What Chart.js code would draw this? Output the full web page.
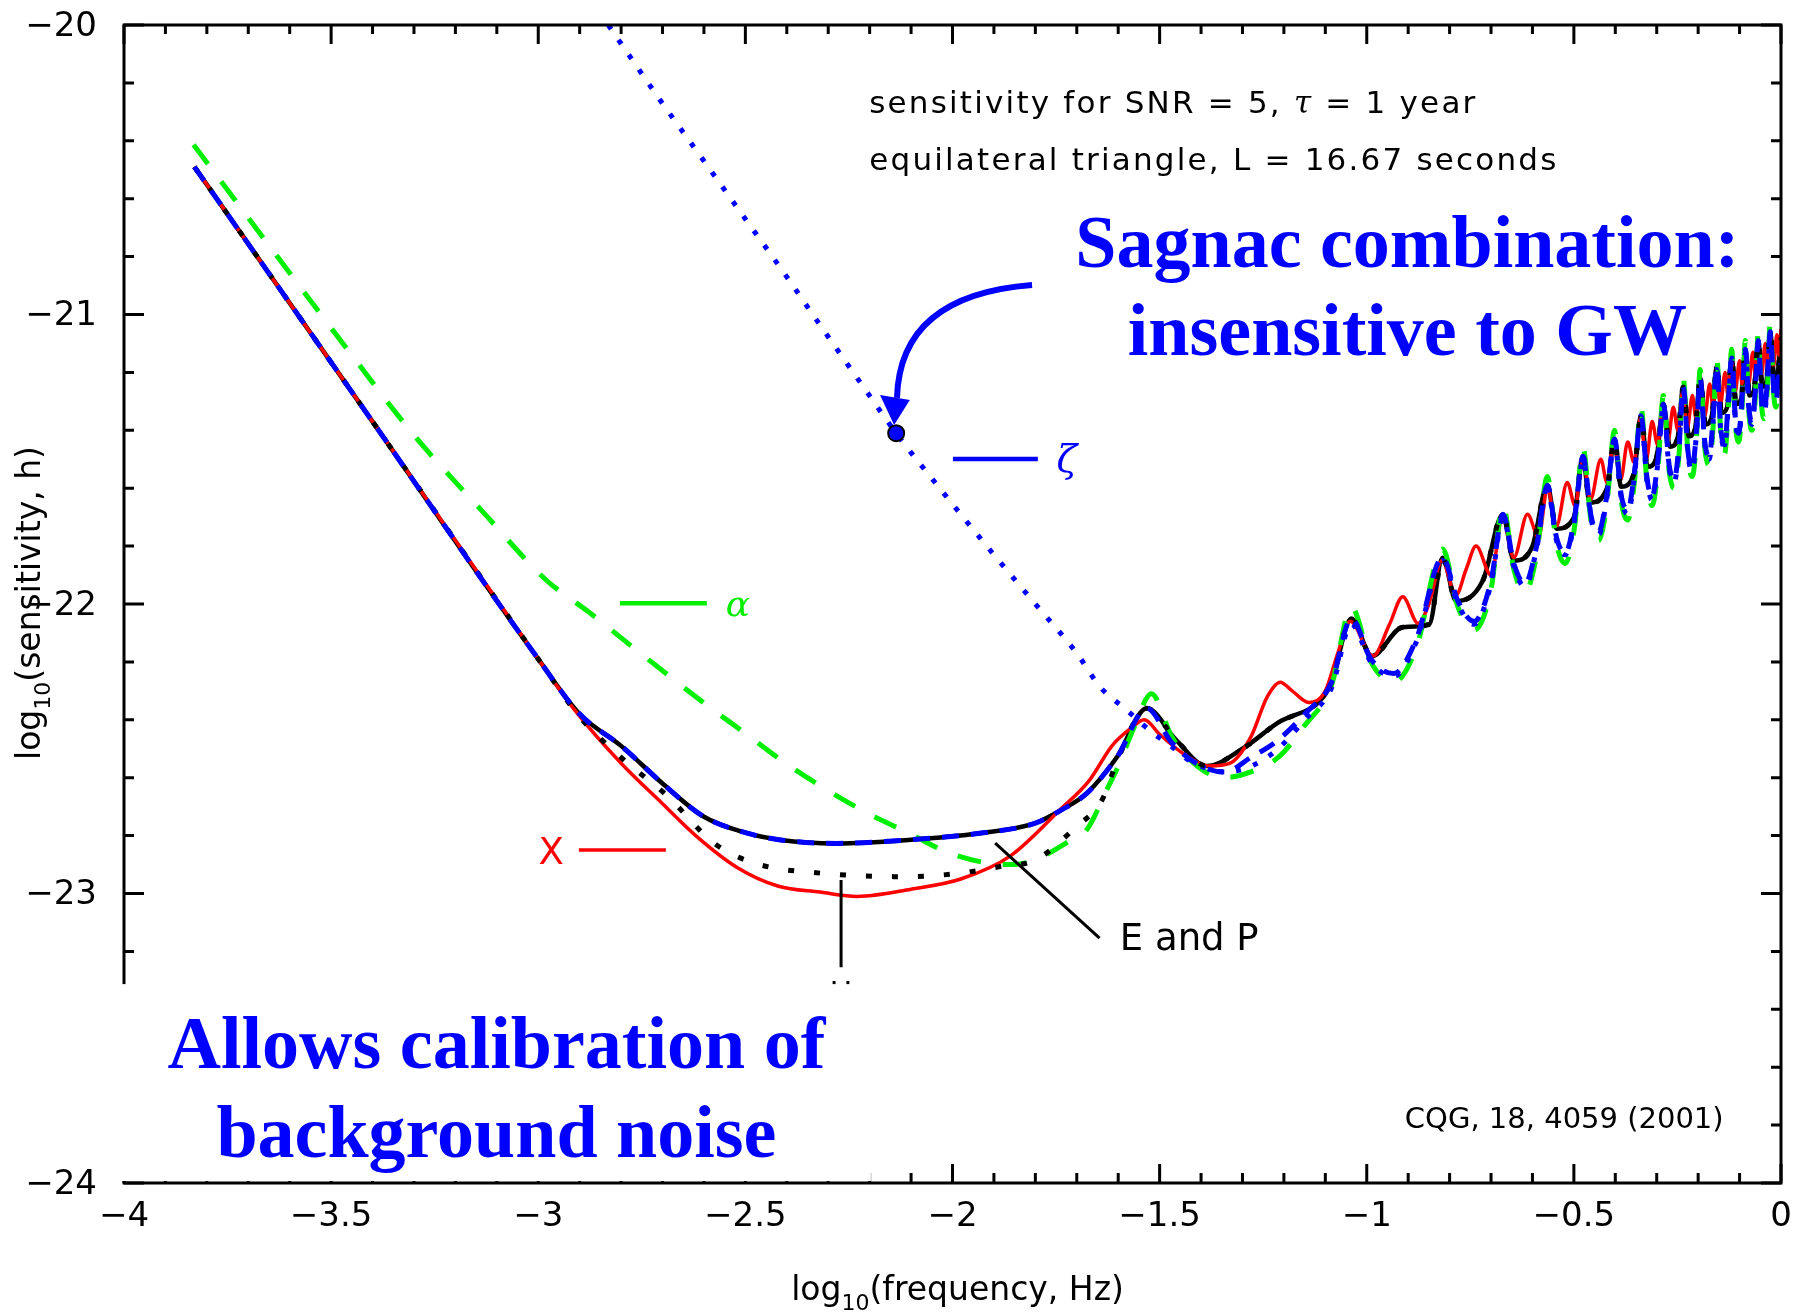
<!DOCTYPE html>
<html>
<head>
<meta charset="utf-8">
<script src="https://cdn.jsdelivr.net/npm/chart.js@4.4.1/dist/chart.umd.min.js"></script>
<style>
  html, body { margin: 0; padding: 0; background: #ffffff; }
  #wrap { width: 1798px; height: 1314px; }
</style>
</head>
<body>
<div id="wrap"><canvas id="c" width="1798" height="1314"></canvas></div>
<script>
// Axis ticks and labels
const xMajorTicks = [-4, -3.5, -3, -2.5, -2, -1.5, -1, -0.5, 0];
const xTickLabels = ['\u22124', '\u22123.5', '\u22123', '\u22122.5', '\u22122', '\u22121.5', '\u22121', '\u22120.5', '0'];
const yMajorTicks = [-24, -23, -22, -21, -20];
const yTickLabels = ['\u221224', '\u221223', '\u221222', '\u221221', '\u221220'];

// X (Michelson) combination
const xRed = [-3.83,-3.40,-3.00,-2.91,-2.80,-2.70,-2.62,-2.52,-2.42,-2.32,-2.23,-2.10,-1.98,-1.86,-1.74,-1.67,-1.615,-1.57,-1.537,-1.50,-1.44,-1.38,-1.33,-1.28,-1.24,-1.209,-1.18,-1.14,-1.10,-1.07,-1.040,-0.985,-0.945,-0.913,-0.876,-0.850,-0.818,-0.785,-0.760,-0.736,-0.700,-0.672,-0.645,-0.612,-0.585,-0.564,-0.542,-0.516,-0.497,-0.478,-0.460,-0.435,-0.420,-0.404,-0.387,-0.370,-0.355,-0.340,-0.325,-0.311,-0.298,-0.286,-0.273,-0.260,-0.249,-0.238,-0.226,-0.214,-0.205,-0.195,-0.184,-0.172,-0.164,-0.156,-0.146,-0.135,-0.128,-0.120,-0.111,-0.100,-0.094,-0.087,-0.078,-0.068,-0.062,-0.056,-0.047,-0.038,-0.033,-0.027,-0.018,-0.010,-0.005,0.0];
const yRed = [-20.49,-21.37,-22.19,-22.37,-22.55,-22.69,-22.80,-22.91,-22.975,-22.995,-23.01,-22.985,-22.95,-22.87,-22.71,-22.61,-22.49,-22.43,-22.40,-22.45,-22.52,-22.56,-22.55,-22.46,-22.32,-22.27,-22.30,-22.34,-22.30,-22.17,-22.06,-22.18,-22.07,-21.975,-22.067,-22.00,-21.85,-21.97,-21.88,-21.80,-21.90,-21.70,-21.84,-21.69,-21.77,-21.60,-21.73,-21.58,-21.66,-21.50,-21.64,-21.50,-21.58,-21.44,-21.57,-21.44,-21.51,-21.36,-21.50,-21.37,-21.45,-21.32,-21.44,-21.32,-21.40,-21.27,-21.39,-21.28,-21.36,-21.23,-21.35,-21.24,-21.32,-21.20,-21.31,-21.20,-21.28,-21.16,-21.27,-21.16,-21.24,-21.13,-21.24,-21.13,-21.21,-21.10,-21.21,-21.10,-21.18,-21.07,-21.18,-21.07,-21.14,-21.05];

// Shared high-frequency grid for E, alpha and zeta
const xHf = [-1.214,-1.15,-1.085,-1.037,-0.99,-0.935,-0.88,-0.817,-0.78,-0.741,-0.70,-0.671,-0.645,-0.618,-0.59,-0.564,-0.542,-0.521,-0.498,-0.478,-0.458,-0.440,-0.420,-0.402,-0.385,-0.370,-0.354,-0.338,-0.323,-0.311,-0.297,-0.284,-0.270,-0.258,-0.246,-0.236,-0.224,-0.214,-0.204,-0.195,-0.184,-0.173,-0.164,-0.155,-0.145,-0.136,-0.128,-0.119,-0.110,-0.102,-0.094,-0.086,-0.077,-0.070,-0.062,-0.055,-0.047,-0.040,-0.033,-0.026,-0.018,-0.012,-0.005,0.0];

// E (monitor) combination
const xELow = [-3.83,-3.40,-3.00,-2.90,-2.80,-2.70,-2.60,-2.50,-2.415,-2.28,-2.107,-1.935,-1.80,-1.738,-1.676,-1.602,-1.531,-1.47,-1.40,-1.343,-1.28];
const yELow = [-20.49,-21.37,-22.19,-22.38,-22.49,-22.62,-22.735,-22.79,-22.815,-22.827,-22.815,-22.792,-22.757,-22.712,-22.654,-22.527,-22.36,-22.48,-22.56,-22.58,-22.53];
const yEHf = [-22.47,-22.38,-22.27,-22.05,-22.19,-22.24,-22.12,-21.84,-21.99,-22.06,-21.92,-21.69,-21.86,-21.93,-21.80,-21.59,-21.77,-21.825,-21.70,-21.49,-21.70,-21.75,-21.62,-21.43,-21.63,-21.675,-21.55,-21.35,-21.57,-21.63,-21.50,-21.31,-21.52,-21.57,-21.45,-21.25,-21.48,-21.53,-21.40,-21.22,-21.44,-21.49,-21.36,-21.18,-21.40,-21.45,-21.32,-21.15,-21.36,-21.41,-21.29,-21.12,-21.33,-21.37,-21.26,-21.09,-21.29,-21.33,-21.23,-21.06,-21.25,-21.29,-21.20,-21.17];

// alpha (Sagnac-type) combination
const xAlphaLow = [-3.832,-3.454,-3.304,-3.131,-2.981,-2.875,-2.778,-2.600,-2.501,-2.403,-2.303,-2.206,-2.107,-2.008,-1.909,-1.85,-1.78,-1.72,-1.676,-1.627,-1.603,-1.56,-1.52,-1.47,-1.40,-1.343,-1.28];
const yAlphaLow = [-20.414,-21.133,-21.41,-21.686,-21.917,-22.031,-22.142,-22.342,-22.446,-22.55,-22.642,-22.722,-22.79,-22.86,-22.896,-22.90,-22.87,-22.82,-22.78,-22.64,-22.57,-22.42,-22.31,-22.46,-22.57,-22.60,-22.58];
const yAlphaHf = [-22.53,-22.42,-22.28,-22.01,-22.20,-22.27,-22.15,-21.81,-22.01,-22.09,-21.95,-21.66,-21.88,-21.96,-21.83,-21.56,-21.79,-21.86,-21.73,-21.46,-21.72,-21.78,-21.65,-21.40,-21.65,-21.71,-21.58,-21.32,-21.59,-21.66,-21.53,-21.28,-21.54,-21.60,-21.48,-21.22,-21.50,-21.56,-21.43,-21.19,-21.46,-21.52,-21.39,-21.15,-21.42,-21.48,-21.35,-21.12,-21.38,-21.44,-21.32,-21.09,-21.35,-21.40,-21.29,-21.06,-21.31,-21.36,-21.26,-21.03,-21.27,-21.32,-21.23,-21.21];

// zeta (fully symmetric Sagnac) combination
const xZetaLow = [-2.831,-2.706,-2.60,-2.50,-2.40,-2.32,-2.22,-2.136,-2.018,-1.90,-1.80,-1.70,-1.644,-1.58,-1.516,-1.473,-1.429,-1.343,-1.279];
const yZetaLow = [-20.00,-20.259,-20.47,-20.67,-20.87,-21.036,-21.24,-21.41,-21.623,-21.83,-22.00,-22.17,-22.286,-22.366,-22.446,-22.49,-22.54,-22.58,-22.56];
const yZetaHf = [-22.50,-22.40,-22.29,-22.07,-22.20,-22.25,-22.13,-21.85,-22.00,-22.07,-21.93,-21.70,-21.87,-21.94,-21.81,-21.60,-21.78,-21.83,-21.71,-21.50,-21.71,-21.76,-21.63,-21.44,-21.64,-21.69,-21.56,-21.36,-21.58,-21.64,-21.51,-21.32,-21.53,-21.58,-21.46,-21.26,-21.49,-21.54,-21.41,-21.23,-21.45,-21.50,-21.37,-21.19,-21.41,-21.46,-21.33,-21.16,-21.37,-21.42,-21.30,-21.13,-21.34,-21.38,-21.27,-21.10,-21.30,-21.34,-21.24,-21.07,-21.26,-21.30,-21.21,-21.18];
const zetaMarkX = [-2.136];
const zetaMarkY = [-21.41];

// P (beacon) and U (relay) combinations; black curves share the high-frequency part
const xPLow = [-3.83,-3.40,-3.00,-2.90,-2.80,-2.70,-2.60,-2.50,-2.415,-2.28,-2.107,-1.935,-1.80,-1.738,-1.676,-1.602];
const yPLow = [-20.49,-21.37,-22.19,-22.38,-22.49,-22.62,-22.735,-22.79,-22.815,-22.827,-22.815,-22.792,-22.757,-22.712,-22.654,-22.527];
const xULow = [-3.83,-3.40,-3.00,-2.90,-2.80,-2.687,-2.575,-2.476,-2.317,-2.107,-1.983,-1.885,-1.799,-1.701,-1.639,-1.602];
const yULow = [-20.49,-21.37,-22.19,-22.39,-22.53,-22.665,-22.827,-22.896,-22.93,-22.942,-22.93,-22.907,-22.884,-22.769,-22.677,-22.54];
const xBlackHf = [-1.531,-1.46,-1.386,-1.30,-1.214,-1.107,-1.085,-1.037,-0.988,-0.913,-0.849,-0.817,-0.784,-0.720,-0.671,-0.645,-0.600,-0.564,-0.542,-0.500,-0.478,-0.462,-0.420,-0.402,-0.386,-0.355,-0.338,-0.322,-0.300,-0.284,-0.268,-0.250,-0.236,-0.222,-0.207,-0.195,-0.182,-0.167,-0.155,-0.143,-0.130,-0.119,-0.108,-0.096,-0.086,-0.076,-0.065,-0.055,-0.045,-0.035,-0.026,-0.017,-0.008,0.0];
const yBlackHf = [-22.36,-22.47,-22.56,-22.50,-22.41,-22.325,-22.27,-22.05,-22.18,-22.08,-22.07,-21.84,-21.99,-21.92,-21.69,-21.85,-21.80,-21.59,-21.74,-21.70,-21.49,-21.65,-21.60,-21.43,-21.595,-21.55,-21.35,-21.526,-21.49,-21.31,-21.457,-21.43,-21.25,-21.42,-21.39,-21.22,-21.38,-21.35,-21.18,-21.34,-21.32,-21.15,-21.31,-21.29,-21.12,-21.28,-21.26,-21.09,-21.25,-21.23,-21.06,-21.22,-21.20,-21.08];

function pts(xs, ys) { return xs.map((v, i) => ({ x: v, y: ys[i] })); }

const RED = '#ff0000', GREEN = '#00ee00', BLUE = '#0000ff', BLACK = '#000000';
const SANS = '"DejaVu Sans", sans-serif';
const SERIF_B = 'bold 74px "Liberation Serif", "Times New Roman", serif';

const base = { showLine: true, pointRadius: 0, fill: false, cubicInterpolationMode: 'monotone', borderJoinStyle: 'round' };

// Draw text with a subscript segment: parts = [[text, isSub], ...]
function drawSubText(ctx, parts, cx, baseline, size) {
  const subSize = Math.round(size * 0.68);
  let total = 0;
  parts.forEach(([t, sub]) => { ctx.font = (sub ? subSize : size) + 'px ' + SANS; total += ctx.measureText(t).width; });
  let x = cx - total / 2;
  ctx.textAlign = 'left'; ctx.textBaseline = 'alphabetic';
  parts.forEach(([t, sub]) => {
    ctx.font = (sub ? subSize : size) + 'px ' + SANS;
    ctx.fillText(t, x, baseline + (sub ? size * 0.3 : 0));
    x += ctx.measureText(t).width;
  });
}

const decor = {
  id: 'decor',
  afterDatasetsDraw(chart) {
    const { ctx, chartArea: a, scales } = chart;
    const px = v => scales.x.getPixelForValue(v);
    const py = v => scales.y.getPixelForValue(v);
    ctx.save();

    // frame
    ctx.strokeStyle = BLACK; ctx.lineWidth = 3; ctx.lineCap = 'butt';
    ctx.strokeRect(a.left, a.top, a.right - a.left, a.bottom - a.top);
    // inward ticks on all four sides
    ctx.beginPath();
    for (let i = 0; i <= 40; i++) {
      const X = px(-4 + i * 0.1);
      const len = i % 5 === 0 ? 19 : 10;
      ctx.moveTo(X, a.bottom); ctx.lineTo(X, a.bottom - len);
      ctx.moveTo(X, a.top); ctx.lineTo(X, a.top + (i % 5 === 0 ? 19 : 9));
    }
    for (let i = 0; i <= 20; i++) {
      const Y = py(-24 + i * 0.2);
      const len = i % 5 === 0 ? 20 : 10;
      ctx.moveTo(a.left, Y); ctx.lineTo(a.left + len, Y);
      ctx.moveTo(a.right, Y); ctx.lineTo(a.right - len, Y);
    }
    ctx.stroke();

    // pointer lines for U and "E and P"
    ctx.lineWidth = 3;
    ctx.beginPath();
    ctx.moveTo(px(-2.269), py(-22.953)); ctx.lineTo(px(-2.269), py(-23.255));
    ctx.moveTo(px(-1.897), py(-22.826)); ctx.lineTo(px(-1.645), py(-23.154));
    ctx.stroke();
    ctx.fillStyle = BLACK;
    ctx.font = '30px ' + SANS; ctx.textAlign = 'center'; ctx.textBaseline = 'top';
    ctx.fillText('U', px(-2.269), py(-23.30));
    ctx.font = '37px ' + SANS; ctx.textAlign = 'left'; ctx.textBaseline = 'middle';
    ctx.fillText('E and P', px(-1.596), py(-23.161));

    // white panel for the lower-left note
    ctx.fillStyle = '#ffffff';
    ctx.fillRect(a.left - 14, py(-23.313), px(-2.197) - (a.left - 14), (a.bottom - 2) - py(-23.313));

    // tick labels
    ctx.fillStyle = BLACK;
    ctx.font = '34px ' + SANS;
    ctx.textAlign = 'right'; ctx.textBaseline = 'middle';
    yMajorTicks.forEach((v, i) => ctx.fillText(yTickLabels[i], a.left - 27, py(v) + 2));
    ctx.textAlign = 'center'; ctx.textBaseline = 'top';
    xMajorTicks.forEach((v, i) => ctx.fillText(xTickLabels[i], px(v), a.bottom + 17));

    // axis titles
    drawSubText(ctx, [['log', false], ['10', true], ['(frequency, Hz)', false]], (a.left + a.right) / 2 + 5, 1300, 33);
    ctx.save();
    ctx.translate(40, 603);
    ctx.rotate(-Math.PI / 2);
    drawSubText(ctx, [['log', false], ['10', true], ['(sensitivity, h)', false]], 0, 0, 33);
    ctx.restore();

    // header notes (wide lettering)
    ctx.save();
    ctx.letterSpacing = '2.2px';
    ctx.textAlign = 'left'; ctx.textBaseline = 'alphabetic';
    let xx = px(-2.201);
    const y1 = py(-20.304);
    ctx.font = '31px ' + SANS;
    ctx.fillText('sensitivity for SNR = 5, ', xx, y1);
    xx += ctx.measureText('sensitivity for SNR = 5, ').width;
    ctx.font = 'italic 31px "DejaVu Serif", serif';
    ctx.fillText('\u03C4', xx, y1);
    xx += ctx.measureText('\u03C4').width;
    ctx.font = '31px ' + SANS;
    ctx.fillText(' = 1 year', xx, y1);
    ctx.fillText('equilateral triangle, L = 16.67 seconds', px(-2.201), py(-20.501));
    ctx.restore();
    ctx.textAlign = 'left'; ctx.textBaseline = 'alphabetic';
    ctx.font = '29px ' + SANS;
    ctx.fillText('CQG, 18, 4059 (2001)', px(-0.908), py(-23.81));

    // series labels
    ctx.lineWidth = 3.5;
    ctx.strokeStyle = RED;
    ctx.beginPath(); ctx.moveTo(px(-2.902), py(-22.850)); ctx.lineTo(px(-2.692), py(-22.850)); ctx.stroke();
    ctx.fillStyle = RED; ctx.font = '37px ' + SANS; ctx.textAlign = 'center'; ctx.textBaseline = 'middle';
    ctx.fillText('X', px(-2.969), py(-22.866));
    ctx.lineWidth = 4.5;
    ctx.strokeStyle = GREEN;
    ctx.beginPath(); ctx.moveTo(px(-2.803), py(-21.997)); ctx.lineTo(px(-2.593), py(-21.997)); ctx.stroke();
    ctx.fillStyle = GREEN; ctx.font = 'italic 36px "DejaVu Serif", serif';
    ctx.fillText('\u03B1', px(-2.518), py(-22.01));
    ctx.strokeStyle = BLUE;
    ctx.beginPath(); ctx.moveTo(px(-1.999), py(-21.499)); ctx.lineTo(px(-1.794), py(-21.499)); ctx.stroke();
    ctx.fillStyle = BLUE; ctx.font = 'italic 38px "DejaVu Serif", serif';
    ctx.fillText('\u03B6', px(-1.724), py(-21.51));

    // Sagnac callout arrow
    ctx.strokeStyle = BLUE; ctx.lineWidth = 6; ctx.lineCap = 'butt';
    ctx.beginPath();
    ctx.moveTo(px(-1.808), py(-20.898));
    ctx.quadraticCurveTo(px(-2.127), py(-20.933), px(-2.134), py(-21.288));
    ctx.stroke();
    ctx.fillStyle = BLUE;
    ctx.beginPath();
    ctx.moveTo(px(-2.141), py(-21.382));
    ctx.lineTo(px(-2.175), py(-21.278));
    ctx.lineTo(px(-2.103), py(-21.295));
    ctx.closePath(); ctx.fill();

    // blue notes
    ctx.font = SERIF_B; ctx.fillStyle = BLUE; ctx.textAlign = 'center'; ctx.textBaseline = 'alphabetic';
    ctx.fillText('Sagnac combination:', px(-0.902), py(-20.836));
    ctx.fillText('insensitive to GW', px(-0.902), py(-21.140));
    ctx.fillText('Allows calibration of', px(-3.101), py(-23.603));
    ctx.fillText('background noise', px(-3.101), py(-23.9102));
    ctx.restore();
  }
};

new Chart(document.getElementById('c'), {
  type: 'scatter',
  data: {
    datasets: [
      { label: 'zeta point', data: pts(zetaMarkX, zetaMarkY), showLine: false, pointRadius: 8, pointBackgroundColor: BLUE, pointBorderColor: BLACK, pointBorderWidth: 2 },
      { ...base, label: 'E', data: pts(xELow.concat(xHf), yELow.concat(yEHf)), borderColor: BLUE, borderWidth: 5, borderDash: [17, 12], borderJoinStyle: 'miter' },
      { ...base, label: 'U', data: pts(xULow.concat(xBlackHf), yULow.concat(yBlackHf)), borderColor: BLACK, borderWidth: 5, borderDash: [6, 20] },
      { ...base, label: '\u03B6', data: pts(xZetaLow.concat(xHf), yZetaLow.concat(yZetaHf)), borderColor: BLUE, borderWidth: 5, borderDash: [5, 13] },
      { ...base, label: '\u03B1', data: pts(xAlphaLow.concat(xHf), yAlphaLow.concat(yAlphaHf)), borderColor: GREEN, borderWidth: 5, borderDash: [24, 22] },
      { ...base, label: 'X', data: pts(xRed, yRed), borderColor: RED, borderWidth: 3.5 },
      { ...base, label: 'P', data: pts(xPLow.concat(xBlackHf), yPLow.concat(yBlackHf)), borderColor: BLACK, borderWidth: 4.5 }
    ]
  },
  options: {
    responsive: false,
    animation: false,
    devicePixelRatio: 1,
    events: [],
    layout: { padding: { top: 25, right: 17, left: 0, bottom: 0 } },
    plugins: { legend: { display: false }, tooltip: { enabled: false }, title: { display: false } },
    scales: {
      x: {
        type: 'linear', min: -4, max: 0,
        ticks: { display: false }, grid: { display: false }, border: { display: false },
        afterFit(s) { s.height = 131; }
      },
      y: {
        type: 'linear', min: -24, max: -20,
        ticks: { display: false }, grid: { display: false }, border: { display: false },
        afterFit(s) { s.width = 124; }
      }
    }
  },
  plugins: [decor]
});
</script>
</body>
</html>
